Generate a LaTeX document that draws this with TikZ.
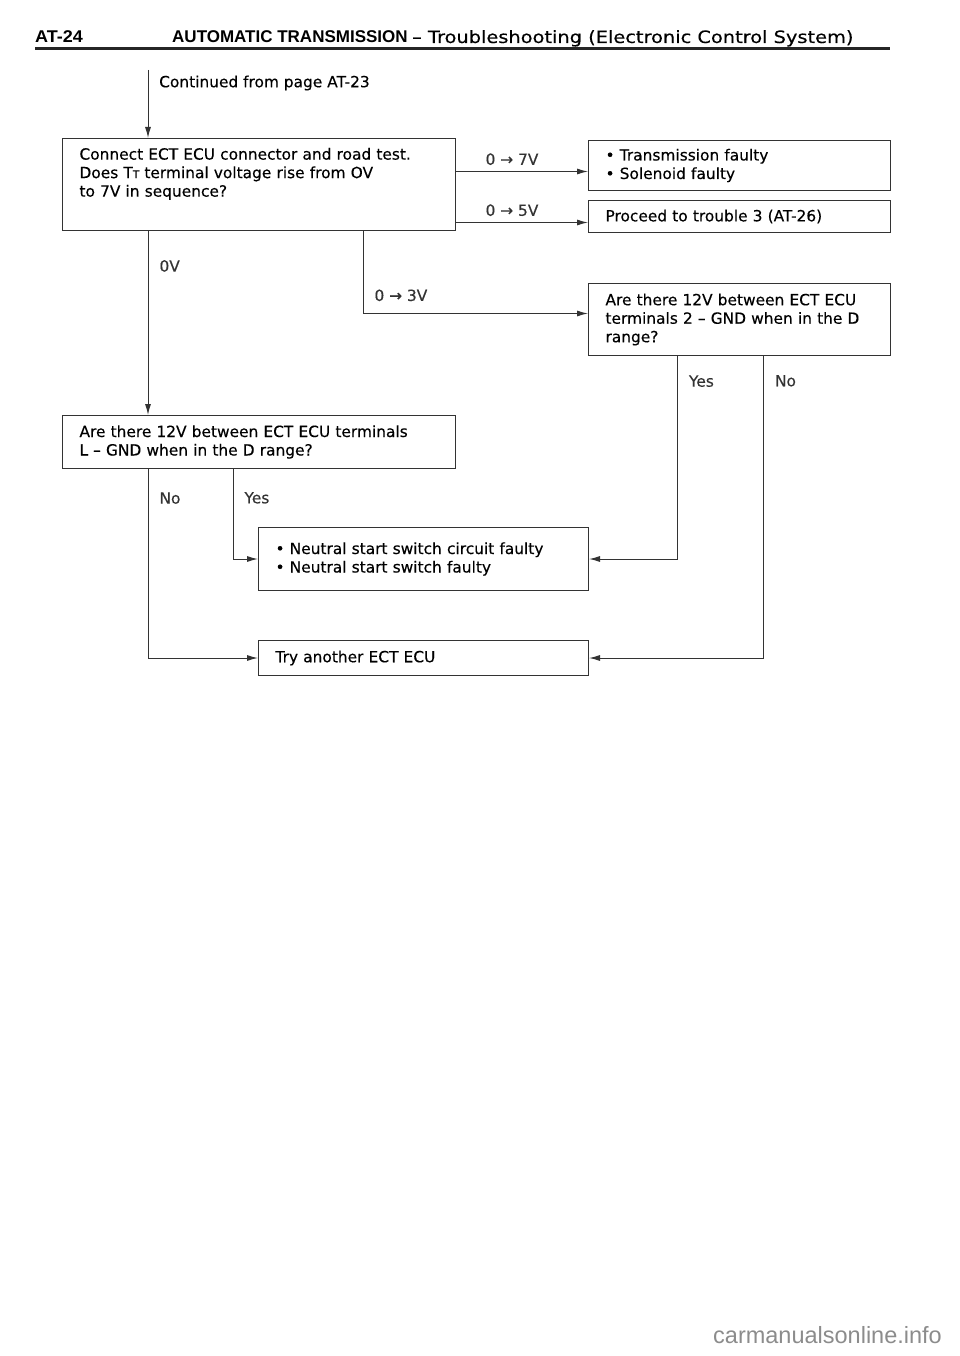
\documentclass[tikz,border=0pt]{standalone}
\usepackage{fontspec}
\usepackage{graphicx}
\setmainfont{DejaVu Sans}[FakeBold=0.3]
\newfontfamily\headfont{Liberation Sans}
\newfontfamily\titlefont{DejaVu Sans}[FakeBold=0.3]
\usetikzlibrary{arrows.meta,positioning}

\begin{document}
\begin{tikzpicture}[
        x=1pt, y=-1pt,
        box/.style={rectangle, draw=black!80, line width=1pt, anchor=north west, align=left, inner xsep=17pt, inner ysep=0pt, font=\fontsize{15.4}{18.5}\selectfont},
        arrow/.style={-{Latex[length=11pt,width=6pt]}, black!80, line width=1pt},
        vlabel/.style={anchor=west, inner sep=0pt, xshift=11pt, font=\fontsize{15.4}{18}\selectfont},
        hlabel/.style={above=6pt, inner sep=0pt, xshift=-10pt, font=\fontsize{15.4}{18}\selectfont},
        head/.style={anchor=base west, inner sep=0pt, font=\headfont\bfseries\fontsize{17}{18}\selectfont}
    ]
        \useasboundingbox (0,0) rectangle (960,1356);

        % Header
        \node[head] (pageno) at (35,43) {\scalebox{1.06}[1]{AT-24}};
        \node[head] (title) at (172,43) {AUTOMATIC TRANSMISSION};
        \node[head, font=\titlefont\fontsize{17}{18}\selectfont] (subtitle) at (412,43) {\scalebox{1.14}[1]{– Troubleshooting (Electronic Control System)}};
        \draw[line width=2.5pt, black!85] (35,48.5) -- (890,48.5);

        % Start
        \coordinate (cont) at (148,70);
        \node[vlabel] (conttext) at (cont |- 0,83) {Continued from page AT-23};

        % Boxes
        \node[box, minimum width=393pt, text width=359pt, minimum height=92pt] (connect) at (62,138) {
            Connect ECT ECU connector and road test.\\
            Does T{\fontsize{10.5}{10}\selectfont T} terminal voltage rise from OV\\
            to 7V in sequence?\\[6pt]\mbox{}
        };
        \node[box, minimum width=302pt, text width=268pt, minimum height=50pt] (faulty) at (588,140) {
            • Transmission faulty\\
            • Solenoid faulty
        };
        \node[box, minimum width=302pt, text width=268pt, minimum height=32pt] (trouble) at (588,200) {Proceed to trouble 3 (AT-26)};
        \node[box, minimum width=302pt, text width=268pt, minimum height=72pt] (ecu2) at (588,283) {
            Are there 12V between ECT ECU\\
            terminals 2 -- GND when in the D\\
            range?
        };
        \node[box, minimum width=393pt, text width=359pt, minimum height=53pt] (ecul) at (62,415) {
            Are there 12V between ECT ECU terminals\\
            L -- GND when in the D range?
        };
        \node[box, minimum width=330pt, text width=296pt, minimum height=63pt] (nss) at (258,527) {
            • Neutral start switch circuit faulty\\
            • Neutral start switch faulty
        };
        \node[box, minimum width=330pt, text width=296pt, minimum height=35pt] (another) at (258,640) {Try another ECT ECU};

        % Arrows
        \coordinate (in7) at ([yshift=-6pt]faulty.west);
        \coordinate (in5) at ([yshift=-6pt]trouble.west);
        \coordinate (in3) at ([yshift=6pt]ecu2.west);
        \draw[arrow] (cont) -- (cont |- connect.north);
        \draw[arrow] (in7 -| connect.east) -- node[hlabel] (v7) {0 → 7V} (in7);
        \draw[arrow] (in5 -| connect.east) -- node[hlabel] (v5) {0 → 5V} (in5);
        \draw[arrow] (cont |- connect.south) -- node[vlabel, pos=0.19] (v0) {0V} (cont |- ecul.north);
        \draw[arrow] ([xshift=104pt]connect.south) |- node[vlabel, pos=0.39] (v3) {0 → 3V} (in3);
        \draw[arrow] ([xshift=-62pt]ecu2.south) |- node[vlabel, pos=0.062] (yes2) {Yes} (nss.east);
        \draw[arrow] ([xshift=24pt]ecu2.south) |- node[vlabel, pos=0.041] (no2) {No} (another.east);
        \draw[arrow] (cont |- ecul.south) |- node[vlabel, pos=0.077] (nol) {No} (another.west);
        \draw[arrow] ([xshift=-26pt]ecul.south) |- node[vlabel, pos=0.16] (yesl) {Yes} (nss.west);

        % Watermark
        \node[anchor=base east, inner sep=0pt, text=black!45, font=\headfont\fontsize{23.5}{23}\selectfont] (site) at (942,1343) {carmanualsonline.info};
    \end{tikzpicture}
\end{document}
